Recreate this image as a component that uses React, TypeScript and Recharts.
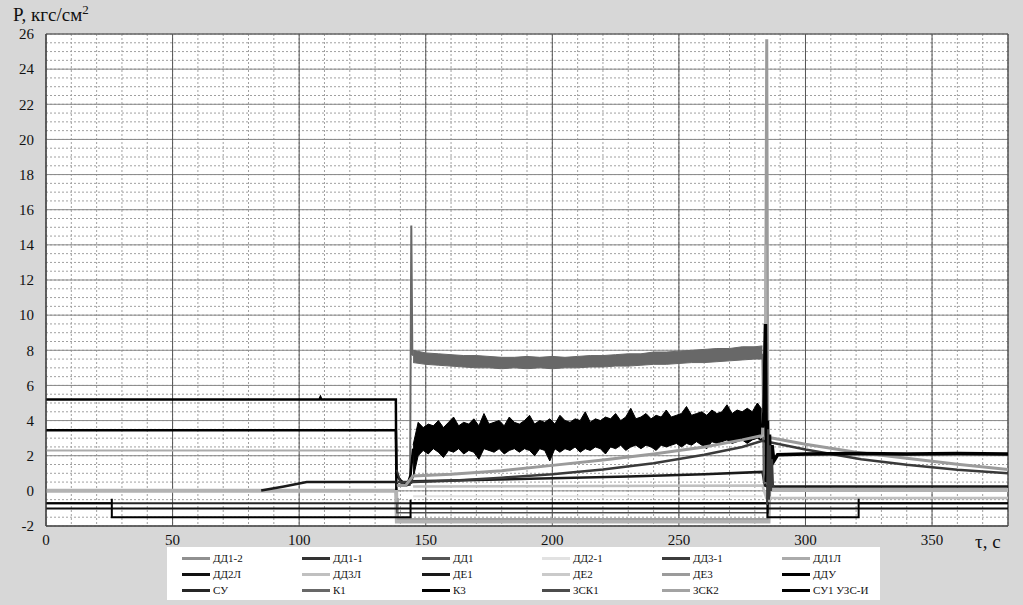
import {
  Area,
  CartesianGrid,
  ComposedChart,
  Line,
  ReferenceArea,
  XAxis,
  YAxis,
} from "recharts";

// axis ticks
const xTicks = [0, 50, 100, 150, 200, 250, 300, 350];
const yTicks = [-2, 0, 2, 4, 6, 8, 10, 12, 14, 16, 18, 20, 22, 24, 26];
const xMinor = [
  0, 10, 20, 30, 40, 50, 60, 70, 80, 90, 100, 110, 120, 130, 140, 150, 160,
  170, 180, 190, 200, 210, 220, 230, 240, 250, 260, 270, 280, 290, 300, 310,
  320, 330, 340, 350, 360, 370, 380,
];
const yMinor = [
  -2, -1.5, -1, -0.5, 0, 0.5, 1, 1.5, 2, 2.5, 3, 3.5, 4, 4.5, 5, 5.5, 6, 6.5,
  7, 7.5, 8, 8.5, 9, 9.5, 10, 10.5, 11, 11.5, 12, 12.5, 13, 13.5, 14, 14.5, 15,
  15.5, 16, 16.5, 17, 17.5, 18, 18.5, 19, 19.5, 20, 20.5, 21, 21.5, 22, 22.5,
  23, 23.5, 24, 24.5, 25, 25.5, 26,
];
const xDomain = [0, 380];
const yDomain = [-2, 26];

// series, [time, pressure]
const su1Uzs = [[0, 5.2], [108, 5.2], [108.4, 5.32], [108.8, 5.2], [138.2, 5.2], [138.4, 0.05]];
const dduPre = [[0, 3.45], [138.2, 3.45], [138.5, 0.9], [140, 0.6], [141.5, 0.42], [143, 0.45], [144, 0.9], [145, 2.4]];
const dduBandX = [
  145, 147, 149, 151, 153, 155, 157, 159, 161, 163,
  165, 167, 169, 171, 173, 175, 177, 179, 181, 183,
  185, 187, 189, 191, 193, 195, 197, 199, 201, 203,
  205, 207, 209, 211, 213, 215, 217, 219, 221, 223,
  225, 227, 229, 231, 233, 235, 237, 239, 241, 243,
  245, 247, 249, 251, 253, 255, 257, 259, 261, 263,
  265, 267, 269, 271, 273, 275, 277, 279, 281, 283,
];
const dduHigh = [
  2.6, 3.9, 3.6, 3.8, 3.7, 4.0, 3.6, 3.9, 4.2, 3.7,
  3.9, 3.8, 4.1, 3.7, 4.4, 3.8, 3.9, 4.0, 3.7, 4.2,
  3.9, 3.8, 4.0, 4.3, 3.8, 4.0, 3.9, 4.1, 3.8, 4.3,
  4.0, 3.9, 4.1, 4.0, 4.5, 3.9, 4.1, 4.0, 4.2, 4.1,
  4.4, 4.0, 4.2, 4.7, 4.1, 4.2, 4.4, 4.1, 4.3, 4.2,
  4.6, 4.2, 4.3, 4.4, 4.8, 4.3, 4.4, 4.5, 4.3, 4.6,
  4.4, 4.5, 4.9, 4.4, 4.6, 4.5, 4.7, 4.5, 5.0, 4.6,
];
const dduLow = [
  0.7, 2.0, 2.3, 2.1, 2.4, 2.2, 1.9, 2.3, 2.2, 2.4,
  2.1, 2.3, 2.2, 1.8, 2.4, 2.3, 2.2, 2.4, 2.1, 2.3,
  2.4, 2.2, 2.4, 2.3, 2.0, 2.4, 2.3, 1.7, 2.4, 2.2,
  2.4, 2.3, 2.5, 2.2, 2.4, 2.3, 2.5, 2.4, 2.1, 2.5,
  2.4, 2.6, 2.3, 2.5, 2.6, 2.4, 2.6, 2.5, 2.3, 2.6,
  2.5, 2.6, 2.7, 2.5, 2.7, 2.6, 2.8, 2.6, 2.4, 2.8,
  2.7, 2.8, 2.9, 2.7, 2.8, 2.9, 2.7, 2.9, 3.0, 2.8,
];
const dduPost = [
  [283, 3.6], [283.6, 4.5], [284.2, 9.5], [284.6, 0.5], [285, 4.0], [285.4, -0.3],
  [285.8, 3.2], [286.2, 0.8], [286.8, 2.6], [287.5, 1.7], [289, 2.05], [300, 2.1],
  [320, 2.12], [340, 2.1], [360, 2.12], [380, 2.1],
];
const k1Pre = [[138.6, 0.3], [143.8, 0.35], [144.3, 15.1], [144.7, 7.8], [145, 7.7]];
const k1BandX = [
  145, 150, 155, 160, 165, 170, 175, 180, 185, 190,
  195, 200, 205, 210, 215, 220, 225, 230, 235, 240,
  245, 250, 255, 260, 265, 270, 275, 280, 283,
];
const k1High = [
  8.0, 7.85, 7.8, 7.75, 7.7, 7.7, 7.65, 7.6, 7.6, 7.65,
  7.6, 7.65, 7.6, 7.65, 7.7, 7.7, 7.75, 7.8, 7.8, 7.9,
  7.9, 7.95, 8.0, 8.05, 8.1, 8.1, 8.2, 8.2, 8.25,
];
const k1Low = [
  7.3, 7.2, 7.15, 7.1, 7.05, 7.0, 7.0, 6.95, 7.0, 6.95,
  7.0, 6.95, 7.0, 7.0, 7.05, 7.05, 7.1, 7.1, 7.15, 7.2,
  7.2, 7.25, 7.3, 7.3, 7.35, 7.4, 7.45, 7.5, 7.5,
];
const k1Post = [[283, 7.8], [283.5, 0.6], [284, 0.4]];
const de3 = [
  [138.6, 0.3], [142, 0.3], [145, 0.85], [160, 0.95], [180, 1.15], [200, 1.45],
  [220, 1.75], [240, 2.1], [260, 2.5], [275, 2.9], [283, 3.15], [284.3, 10],
  [284.7, 25.7], [285.1, 3.05], [300, 2.65], [320, 2.2], [340, 1.85], [360, 1.52],
  [380, 1.22],
];
const dd1 = [
  [139, 0.5], [145, 0.5], [160, 0.58], [180, 0.75], [200, 0.95], [220, 1.22],
  [240, 1.57], [260, 2.05], [275, 2.5], [283, 2.85], [285, 2.8], [300, 2.35],
  [322, 1.8], [340, 1.48], [360, 1.2], [380, 1.0],
];
const de1 = [
  [85, 0.02], [94, 0.25], [103, 0.5], [138.2, 0.5], [139, 0.3], [143, 0.35],
  [145, 0.55], [170, 0.62], [200, 0.72], [230, 0.82], [260, 0.95], [283, 1.08],
  [284, 0.3], [285, 0.25], [380, 0.25],
];
const de2 = [[0, 0], [138.3, 0], [138.6, -1.75], [285.4, -1.75], [285.7, 0.05], [380, 0.05]];
const dd1l = [[0, 2.3], [139.5, 2.3]];
const dd3l = [[145, 0.25], [283, 0.3], [284.5, -0.4], [380, -0.4]];
const dd21 = [[145, -0.3], [283, -0.3]];
const su = [[0, -0.7], [380, -0.7]];
const dd2l = [[0, -1.0], [380, -1.0]];
const k3 = [
  [0, -0.7], [26, -0.7], [26, -0.45], [26, -1.5], [144, -1.5], [144, -0.5],
  [144, -0.7], [285, -0.7], [285, -1.5], [321, -1.5], [321, -0.45], [321, -0.7],
  [380, -0.7],
];
const zsk1 = [[138.6, -0.7], [138.6, -1.25], [285.3, -1.25], [285.3, -0.7]];
const zsk2 = [[139, -0.4], [139, -1.6], [285, -1.6], [285, -0.3]];
const dd11 = [[138.5, 1.2], [140, 0.5], [142, 0.3], [143.5, 0.35], [144.5, 0.7], [145, 0.5]];
const dd12 = [[282, 3.0], [283.8, 3.2], [284.2, 14], [284.6, 3.0], [285, 2.9]];
const dd31 = [
  [284.8, -0.8], [285.2, 3.5], [285.6, -0.5], [286, 2.6], [286.4, 0.0],
  [286.8, 1.8], [287.2, 0.3], [287.8, 0.25],
];

const legendNames = [
  "ДД1-2", "ДД1-1", "ДД1", "ДД2-1", "ДД3-1", "ДД1Л",
  "ДД2Л", "ДД3Л", "ДЕ1", "ДЕ2", "ДЕ3", "ДДУ",
  "СУ", "К1", "К3", "ЗСК1", "ЗСК2", "СУ1 УЗС-И",
];
const legendColors = [
  "#909090", "#333333", "#555555", "#e2e2e2", "#3c3c3c", "#ababab",
  "#111111", "#c0c0c0", "#1a1a1a", "#cacaca", "#9b9b9b", "#000000",
  "#262626", "#686868", "#000000", "#4c4c4c", "#a3a3a3", "#000000",
];

const pts = (a: number[][]) => a.map(([x, y]) => ({ x, y }));
const band = (xs: number[], lo: number[], hi: number[]) =>
  xs.map((x, i) => ({ x, v: [lo[i], hi[i]] }));

const serif = "Liberation Serif, Times New Roman, DejaVu Serif, serif";

// minor dotted grid, placed with the axis scale when it is given
const minorX = ({ xAxis, offset }: any) =>
  xMinor.map((v) =>
    xAxis && typeof xAxis.scale === "function"
      ? xAxis.scale(v)
      : offset.left + (offset.width * (v - xDomain[0])) / (xDomain[1] - xDomain[0])
  );
const minorY = ({ yAxis, offset }: any) =>
  yMinor.map((v) =>
    yAxis && typeof yAxis.scale === "function"
      ? yAxis.scale(v)
      : offset.top + (offset.height * (yDomain[1] - v)) / (yDomain[1] - yDomain[0])
  );

const ChartLegend = () => (
  <div
    style={{
      position: "absolute",
      left: 167,
      top: 547,
      width: 713,
      height: 53,
      background: "#fff",
    }}
  >
    {legendNames.map((n, i) => (
      <div
        key={n}
        style={{
          position: "absolute",
          left: 15 + (i % 6) * 120,
          top: 3 + Math.floor(i / 6) * 16,
          height: 16,
          display: "flex",
          alignItems: "center",
          fontFamily: serif,
          fontSize: 11,
          color: "#111",
          whiteSpace: "nowrap",
        }}
      >
        <span
          style={{
            display: "inline-block",
            width: 28,
            height: 3,
            background: legendColors[i],
            marginRight: 3,
          }}
        />
        {n}
      </div>
    ))}
  </div>
);

const line = (d: number[][], color: string, w: number, key: string) => (
  <Line
    key={key}
    data={pts(d)}
    dataKey="y"
    type="linear"
    stroke={color}
    strokeWidth={w}
    dot={false}
    activeDot={false}
    isAnimationActive={false}
  />
);

export default function App() {
  return (
    <div
      style={{
        position: "absolute",
        left: 0,
        top: 0,
        width: 1023,
        height: 605,
        background: "#d7d7d7",
        overflow: "hidden",
        fontFamily: serif,
      }}
    >
      <div
        style={{
          position: "absolute",
          left: 13,
          top: 2,
          fontFamily: serif,
          fontSize: 19,
          color: "#111",
        }}
      >
        P, кгс/см<sup style={{ fontSize: 13 }}>2</sup>
      </div>
      <ComposedChart
        width={1023}
        height={605}
        margin={{ top: 34, right: 15, left: 0, bottom: 49 }}
        style={{ fontFamily: serif }}
      >
        <XAxis
          dataKey="x"
          type="number"
          domain={xDomain}
          ticks={xTicks}
          allowDataOverflow
          tickSize={0}
          tickMargin={8}
          axisLine={{ stroke: "#444" }}
          tick={{ fontSize: 15, fontFamily: serif, fill: "#111" }}
        />
        <YAxis
          type="number"
          domain={yDomain}
          ticks={yTicks}
          allowDataOverflow
          width={46}
          tickSize={0}
          tickMargin={12}
          axisLine={{ stroke: "#444" }}
          tick={{ fontSize: 15, fontFamily: serif, fill: "#111" }}
        />
        <CartesianGrid
          fill="#fff"
          stroke="#a0a0a0"
          strokeDasharray="2 2"
          verticalCoordinatesGenerator={minorX}
          horizontalCoordinatesGenerator={minorY}
        />
        <CartesianGrid vertical={false} stroke="#8a8a8a" />
        <CartesianGrid horizontal={false} stroke="#555" />
        <ReferenceArea x1={0} x2={380} y1={-2} y2={26} fill="none" stroke="#555" />

        {line(dd1l, "#ababab", 2, "dd1l")}
        {line(dd21, "#e2e2e2", 2, "dd21")}
        {line(de2, "#b3b3b3", 4, "de2")}
        {line(dd3l, "#c0c0c0", 2.5, "dd3l")}
        {line(zsk2, "#a3a3a3", 2, "zsk2")}
        {line(zsk1, "#4c4c4c", 1.5, "zsk1")}
        {line(su, "#262626", 2, "su")}
        {line(dd2l, "#111111", 2, "dd2l")}
        {line(k3, "#000000", 2, "k3")}
        {line(su1Uzs, "#000000", 2.5, "su1")}
        {line(de1, "#1a1a1a", 2.5, "de1")}
        {line(k1Pre, "#686868", 2, "k1pre")}
        <Area
          data={band(k1BandX, k1Low, k1High)}
          dataKey="v"
          type="linear"
          stroke="#686868"
          strokeWidth={1}
          fill="#686868"
          fillOpacity={1}
          dot={false}
          activeDot={false}
          isAnimationActive={false}
        />
        {line(k1Post, "#686868", 2, "k1post")}
        {line(dduPre, "#000000", 2.5, "ddupre")}
        <Area
          data={band(dduBandX, dduLow, dduHigh)}
          dataKey="v"
          type="linear"
          stroke="#000"
          strokeWidth={1}
          fill="#000"
          fillOpacity={1}
          dot={false}
          activeDot={false}
          isAnimationActive={false}
        />
        {line(dd11, "#333333", 2, "dd11")}
        {line(dd1, "#3a3a3a", 2.5, "dd1")}
        {line(de3, "#9b9b9b", 3, "de3")}
        {line(dd12, "#b0b0b0", 2, "dd12")}
        {line(dduPost, "#000000", 3.5, "ddupost")}
        {line(dd31, "#3c3c3c", 2, "dd31")}
      </ComposedChart>
      <div
        style={{
          position: "absolute",
          left: 975,
          top: 531,
          fontFamily: serif,
          fontSize: 19,
          color: "#111",
        }}
      >
        τ, с
      </div>
      <ChartLegend />
    </div>
  );
}
